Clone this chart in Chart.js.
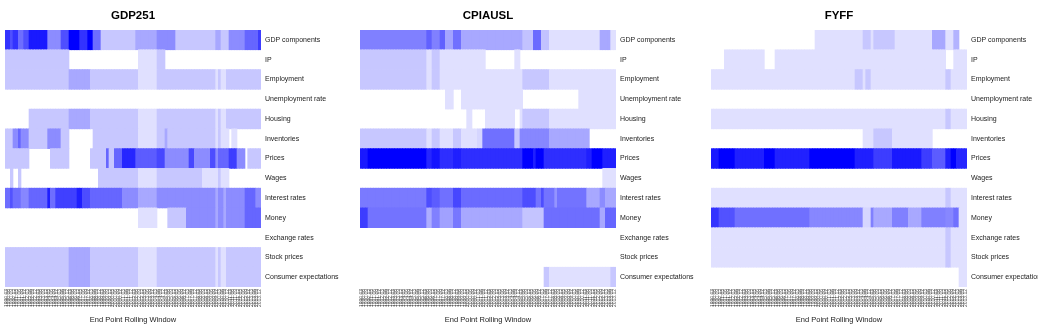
<!DOCTYPE html>
<html>
<head>
<meta charset="utf-8">
<script src="https://cdn.jsdelivr.net/npm/chart.js@4.4.1/dist/chart.umd.min.js"></script>
<style>
body { margin: 0; background: #fff; width: 1038px; height: 325px; overflow: hidden; position: relative; }
canvas { position: absolute; top: 0; }
</style>
</head>
<body>
<canvas id="c1" width="355" height="325" style="left:0px"></canvas>
<canvas id="c2" width="350" height="325" style="left:355px"></canvas>
<canvas id="c3" width="332" height="325" style="left:706px"></canvas>
<script>
// row categories, top to bottom
var rows = ['GDP components', 'IP', 'Employment', 'Unemployment rate', 'Housing', 'Inventories',
    'Prices', 'Wages', 'Interest rates', 'Money', 'Exchange rates', 'Stock prices', 'Consumer expectations'];

// end points of the rolling window (x axis)
var periods = [
    '1990.03','1990.06','1990.09','1990.12','1991.03','1991.06','1991.09','1991.12',
    '1992.03','1992.06','1992.09','1992.12','1993.03','1993.06','1993.09','1993.12',
    '1994.03','1994.06','1994.09','1994.12','1995.03','1995.06','1995.09','1995.12',
    '1996.03','1996.06','1996.09','1996.12','1997.03','1997.06','1997.09','1997.12',
    '1998.03','1998.06','1998.09','1998.12','1999.03','1999.06','1999.09','1999.12',
    '2000.03','2000.06','2000.09','2000.12','2001.03','2001.06','2001.09','2001.12',
    '2002.03','2002.06','2002.09','2002.12','2003.03','2003.06','2003.09','2003.12',
    '2004.03','2004.06','2004.09','2004.12','2005.03','2005.06','2005.09','2005.12',
    '2006.03','2006.06','2006.09','2006.12','2007.03','2007.06','2007.09','2007.12',
    '2008.03','2008.06','2008.09','2008.12','2009.03','2009.06','2009.09','2009.12',
    '2010.03','2010.06','2010.09','2010.12','2011.03','2011.06','2011.09','2011.12',
    '2012.03','2012.06','2012.09','2012.12','2013.03','2013.06','2013.09','2013.12'
];

// each row: runs of [share, last period index (exclusive)]
var gdp251 = [
    [[0.8,2],[0.69,3],[0.8,5],[0.57,7],[0.69,9],[0.9,16],[0.45,21],[0.69,24],[1,28],[0.8,31],[1,33],[0.57,36],[0.22,49],[0.34,57],[0.45,64],[0.22,79],[0.34,81],[0.22,84],[0.45,90],[0.6,95],[0.76,96]],
    [[0.22,24],[0,50],[0.12,57],[0.22,60],[0,96]],
    [[0.22,24],[0.34,32],[0.22,50],[0.12,57],[0.22,79],[0.12,80],[0.22,81],[0.12,83],[0.22,96]],
    [[0,96]],
    [[0,9],[0.22,24],[0.34,32],[0.22,50],[0.12,57],[0.22,79],[0.12,80],[0.22,81],[0.12,83],[0.22,96]],
    [[0.22,3],[0.45,5],[0.6,6],[0.45,9],[0.22,16],[0.45,21],[0.22,24],[0,33],[0.22,50],[0.12,57],[0.22,60],[0.34,61],[0.22,79],[0.12,80],[0.22,81],[0.12,84],[0,85],[0.12,87],[0,96]],
    [[0.22,9],[0,17],[0.22,24],[0,32],[0.22,38],[0.6,39],[0.22,41],[0.6,44],[0.85,49],[0.64,57],[0.72,60],[0.45,69],[0.72,71],[0.45,77],[0.7,79],[0.45,80],[0.6,84],[0.76,87],[0.45,90],[0,91],[0.22,96]],
    [[0,2],[0.22,3],[0,5],[0.22,6],[0,35],[0.22,50],[0.12,57],[0.22,74],[0.12,80],[0.22,81],[0.12,84],[0,96]],
    [[0.57,2],[0.68,3],[0.57,6],[0.47,9],[0.6,16],[0.88,17],[0.57,19],[0.75,27],[0.88,29],[0.7,32],[0.6,44],[0.45,50],[0.34,57],[0.45,79],[0.34,80],[0.45,82],[0.34,83],[0.45,90],[0.6,94],[0.45,96]],
    [[0,50],[0.12,57],[0,61],[0.22,68],[0.45,79],[0.34,80],[0.45,82],[0.34,83],[0.45,90],[0.6,96]],
    [[0,96]],
    [[0.22,24],[0.34,32],[0.22,50],[0.12,57],[0.22,79],[0.12,80],[0.22,81],[0.12,83],[0.22,96]],
    [[0.22,24],[0.34,32],[0.22,50],[0.12,57],[0.22,79],[0.12,80],[0.22,81],[0.12,83],[0.22,96]]
];

var cpiausl = [
    [[0.5,25],[0.62,27],[0.5,30],[0.62,32],[0.36,35],[0.56,38],[0.34,61],[0.24,65],[0.58,68],[0.24,71],[0.12,90],[0.34,94],[0.12,96]],
    [[0.22,25],[0.12,27],[0.22,30],[0.12,47],[0,58],[0.12,60],[0,96]],
    [[0.22,25],[0.12,27],[0.22,30],[0.12,61],[0.22,71],[0.12,96]],
    [[0,32],[0.12,35],[0,38],[0.12,61],[0,82],[0.12,96]],
    [[0,40],[0.12,42],[0,47],[0.12,58],[0,60],[0.12,61],[0.22,71],[0.12,96]],
    [[0.22,25],[0.12,27],[0.22,30],[0.12,35],[0.22,38],[0.12,44],[0.16,46],[0.56,58],[0.22,60],[0.47,71],[0.34,86],[0,96]],
    [[0.9,3],[1,25],[0.85,27],[0.92,30],[0.82,35],[0.88,38],[0.82,61],[1,65],[0.88,66],[1,69],[0.82,85],[0.88,87],[1,91],[0.88,96]],
    [[0,91],[0.12,96]],
    [[0.52,25],[0.7,27],[0.64,30],[0.56,35],[0.72,38],[0.58,61],[0.7,66],[0.55,68],[0.7,69],[0.55,73],[0.42,74],[0.55,85],[0.34,90],[0.45,92],[0.34,96]],
    [[0.76,3],[0.55,25],[0.32,27],[0.5,30],[0.37,35],[0.53,38],[0.34,61],[0.23,69],[0.57,90],[0.34,92],[0.6,96]],
    [[0,96]],
    [[0,96]],
    [[0,69],[0.22,71],[0.12,94],[0.22,96]]
];

var fyff = [
    [[0,39],[0.12,57],[0.22,60],[0.12,61],[0.22,69],[0.12,83],[0.34,88],[0.12,91],[0.3,93],[0,96]],
    [[0,5],[0.12,20],[0,24],[0.12,88],[0,91],[0.12,96]],
    [[0.12,54],[0.22,57],[0.12,58],[0.22,60],[0.12,88],[0.22,90],[0.12,96]],
    [[0,96]],
    [[0.12,88],[0.22,90],[0.12,96]],
    [[0,57],[0.12,61],[0.22,68],[0.12,83],[0,96]],
    [[0.9,3],[1,9],[0.88,20],[1,24],[0.87,37],[1,54],[0.88,61],[0.76,68],[0.9,79],[0.76,83],[0.64,88],[0.88,90],[1,92],[0.85,96]],
    [[0,96]],
    [[0.12,88],[0.22,90],[0.12,96]],
    [[0.8,3],[0.68,9],[0.56,37],[0.47,57],[0.16,60],[0.5,61],[0.34,68],[0.5,74],[0.34,79],[0.5,88],[0.47,91],[0.56,93],[0.12,96]],
    [[0.12,88],[0.22,90],[0.12,96]],
    [[0.12,88],[0.22,90],[0.12,96]],
    [[0,93],[0.12,96]]
];

Chart.defaults.font.family = 'Arial, "Liberation Sans", sans-serif';

function expand(runs) {
    var out = [];
    var start = 0;
    runs.forEach(function (r) {
        for (var i = start; i < r[1]; i++) out.push(r[0]);
        start = r[1];
    });
    return out;
}

function shade(v) {
    if (v == 0) return 'rgba(255,255,255,0)';
    var c = Math.round(255 * (1 - v));
    return 'rgb(' + c + ',' + c + ',255)';
}

function heatmap(id, title, panel, yWidth) {
    var datasets = [];
    // stacked bars start at the bottom, so push the last row first
    for (var r = rows.length - 1; r >= 0; r--) {
        var vals = expand(panel[r]);
        datasets.push({
            label: rows[r],
            data: periods.map(function () { return 1; }),
            backgroundColor: vals.map(shade),
            borderWidth: 0,
            barPercentage: 1,
            categoryPercentage: 1
        });
    }

    new Chart(document.getElementById(id), {
        type: 'bar',
        data: { labels: periods, datasets: datasets },
        options: {
            responsive: false,
            animation: false,
            devicePixelRatio: 1,
            layout: { padding: { left: 5, top: 0, right: 0, bottom: 0 } },
            plugins: {
                legend: { display: false },
                tooltip: { enabled: false },
                title: {
                    display: true,
                    text: title,
                    fullSize: false,
                    color: '#000',
                    font: { size: 11.5, weight: 'bold' },
                    padding: { top: 9, bottom: 7.2 }
                }
            },
            scales: {
                x: {
                    stacked: true,
                    grid: { display: false, drawTicks: false },
                    border: { display: false },
                    ticks: {
                        autoSkip: false,
                        maxRotation: 90,
                        minRotation: 90,
                        padding: 2,
                        color: '#555',
                        font: { size: 5 }
                    },
                    title: {
                        display: true,
                        text: 'End Point Rolling Window',
                        color: '#222',
                        font: { size: 7.5 },
                        padding: { top: 0, bottom: 1 }
                    },
                    afterFit: function (s) { s.height = 38; }
                },
                y: {
                    stacked: true,
                    position: 'right',
                    min: 0,
                    max: 13,
                    grid: { display: false, drawTicks: false },
                    border: { display: false },
                    afterBuildTicks: function (s) {
                        s.ticks = rows.map(function (name, i) { return { value: 12.5 - i }; });
                    },
                    ticks: {
                        autoSkip: false,
                        padding: 4,
                        color: '#222',
                        font: { size: 7 },
                        callback: function (v, i) { return rows[i]; }
                    },
                    afterFit: function (s) { s.width = yWidth; }
                }
            }
        }
    });
}

heatmap('c1', 'GDP251', gdp251, 94);
heatmap('c2', 'CPIAUSL', cpiausl, 89);
heatmap('c3', 'FYFF', fyff, 71);
</script>
</body>
</html>
